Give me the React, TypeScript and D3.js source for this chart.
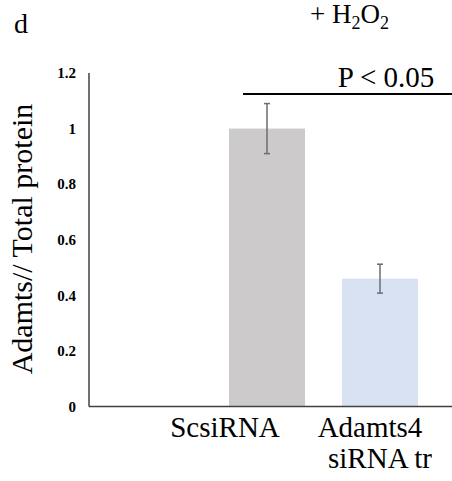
import React from "react";
import { scaleBand, scaleLinear } from "d3";

const width = 452;
const height = 481;

// data
const categories = ["", "ScsiRNA", "Adamts4\nsiRNA tr"];
const values = [null, 1.0, 0.46];
const errors = [null, 0.09, 0.052];
const barColors = ["#ffffff", "#cccaca", "#d9e2f3"];
const yTicks = [0, 0.2, 0.4, 0.6, 0.8, 1, 1.2];
const yTitle = "Adamts// Total protein";
const sigLabel = "P < 0.05";

// label nudges (Excel puts them a bit left of the bars)
const labelShift = [[0], [-42], [-10, 0]];

const serifFont = "Liberation Serif, Times New Roman, Times, serif";

const xAxisLeft = 89;
const xAxisRight = 452;

const App = () => {
  const xScale = scaleBand()
    .domain(categories)
    .range([79, 455])
    .padding(0.327);

  const yScale = scaleLinear().domain([0, 1.2]).range([406.5, 73]);

  const capW = 3;

  return (
    <svg
      width={width}
      height={height}
      style={{ position: "absolute", left: 0, top: 0, background: "#fff" }}
      fontFamily={serifFont}
    >
      <text x={14} y={33} fontSize={28}>
        d
      </text>
      <text x={310} y={23} fontSize={27}>
        + H
        <tspan fontSize={18} dy={6}>
          2
        </tspan>
        <tspan dy={-6}>O</tspan>
        <tspan fontSize={18} dy={6}>
          2
        </tspan>
      </text>

      <text
        transform={`translate(32, 239) rotate(-90)`}
        textAnchor="middle"
        fontSize={30}
      >
        {yTitle}
      </text>

      {yTicks.map((t) => (
        <text
          key={t}
          x={76}
          y={yScale(t)}
          dy="0.35em"
          textAnchor="end"
          fontWeight="bold"
          fontSize={15}
        >
          {t}
        </text>
      ))}

      {categories.map((c, i) =>
        values[i] == null ? null : (
          <rect
            key={c}
            x={xScale(c)}
            y={yScale(values[i] as number)}
            width={xScale.bandwidth()}
            height={yScale(0) - yScale(values[i] as number)}
            fill={barColors[i]}
          />
        )
      )}

      {categories.map((c, i) => {
        if (values[i] == null) return null;
        const cx = (xScale(c) as number) + xScale.bandwidth() / 2;
        const y1 = yScale((values[i] as number) + (errors[i] as number));
        const y2 = yScale((values[i] as number) - (errors[i] as number));
        return (
          <g key={c} stroke="#6d6d6d" strokeWidth={1.5}>
            <line x1={cx} x2={cx} y1={y1} y2={y2} />
            <line x1={cx - capW} x2={cx + capW} y1={y1} y2={y1} />
            <line x1={cx - capW} x2={cx + capW} y1={y2} y2={y2} />
          </g>
        );
      })}

      <line
        x1={xAxisLeft}
        x2={xAxisLeft}
        y1={yScale(1.2)}
        y2={yScale(0)}
        stroke="#404040"
        strokeWidth={1.5}
      />
      <line
        x1={xAxisLeft}
        x2={xAxisRight}
        y1={yScale(0)}
        y2={yScale(0)}
        stroke="#404040"
        strokeWidth={1.5}
      />

      {categories.map((c, i) =>
        c.split("\n").map((line, j) => (
          <text
            key={c + j}
            x={(xScale(c) as number) + xScale.bandwidth() / 2 + labelShift[i][j]}
            y={437 + j * 31}
            textAnchor="middle"
            fontSize={29}
          >
            {line}
          </text>
        ))
      )}

      <line x1={243} x2={452} y1={94} y2={94} stroke="#000" strokeWidth={2} />
      <text x={386} y={87} textAnchor="middle" fontSize={29}>
        {sigLabel}
      </text>
    </svg>
  );
};

export default App;
